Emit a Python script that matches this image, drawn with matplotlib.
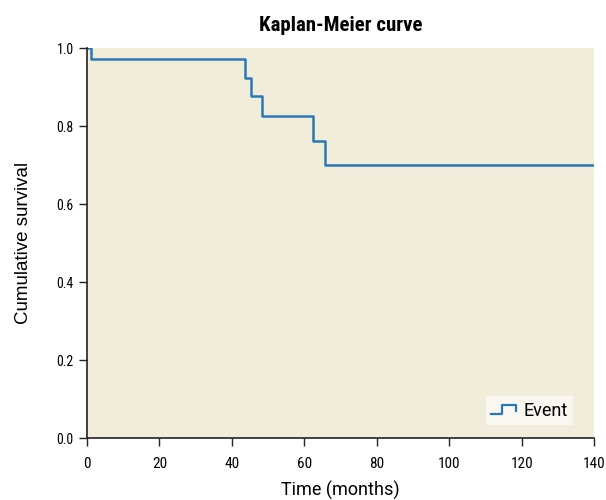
import matplotlib
matplotlib.use('Agg')
import matplotlib.pyplot as plt
from matplotlib.legend_handler import HandlerBase
from matplotlib.lines import Line2D
from matplotlib import font_manager

# survival step data (months, cumulative survival)
times = [0, 1.1, 43.6, 45.3, 48.3, 62.4, 65.7, 140]
survival = [1.0, 0.972, 0.923, 0.877, 0.826, 0.762, 0.700, 0.700]
x_ticks = [0, 20, 40, 60, 80, 100, 120, 140]
y_ticks = [0.0, 0.2, 0.4, 0.6, 0.8, 1.0]


def pick(cands):
    names = {f.name for f in font_manager.fontManager.ttflist}
    for c in cands:
        if c in names:
            return c
    return 'DejaVu Sans'


narrow = pick(['Roboto Condensed', 'Archivo Narrow', 'PT Sans Narrow'])
label_font = pick(['Roboto', 'Open Sans'])
arial = pick(['Liberation Sans', 'Arimo'])

line_color = '#2a78b8'
bg = '#f2eddb'


class StepHandler(HandlerBase):
    def create_artists(self, legend, orig_handle, xdescent, ydescent,
                       width, height, fontsize, trans):
        x0 = -xdescent
        y0 = -ydescent
        xs = [x0, x0 + width * 0.45, x0 + width * 0.45, x0 + width, x0 + width]
        ys = [y0 + height * 0.15, y0 + height * 0.15, y0 + height * 0.85,
              y0 + height * 0.85, y0 + height * 0.4]
        ln = Line2D(xs, ys, color=line_color, lw=1.6, transform=trans)
        return [ln]


fig = plt.figure(figsize=(6.06, 5.0), dpi=100)
ax = fig.add_axes([0.1436, 0.124, 0.8366, 0.78])
ax.set_facecolor(bg)

ax.step(times, survival, where='post', color=line_color, lw=1.8, label='Event')

ax.set_xlim(0, 140)
ax.set_ylim(0, 1.0)
ax.set_xticks(x_ticks)
ax.set_yticks(y_ticks)
ax.set_xticklabels([str(t) for t in x_ticks], fontfamily=narrow, fontsize=11)
ax.set_yticklabels(['%.1f' % t for t in y_ticks], fontfamily=narrow, fontsize=10)
ax.tick_params(direction='out', length=6, width=1.0, color='#222222')
ax.tick_params(axis='x', pad=8)

for s in ['top', 'right']:
    ax.spines[s].set_visible(False)
for s in ['left', 'bottom']:
    ax.spines[s].set_linewidth(1.2)
    ax.spines[s].set_color('#222222')

ax.set_xlabel('Time (months)', fontfamily=label_font, fontsize=13, labelpad=7)
ax.set_ylabel('Cumulative survival', fontfamily=arial, fontsize=13.5, labelpad=18)
ax.set_title('Kaplan-Meier curve', fontfamily=narrow, fontweight='bold',
             fontsize=15, pad=12)

leg = ax.legend(handler_map={Line2D: StepHandler()}, loc='lower right',
                bbox_to_anchor=(0.959, 0.033), borderaxespad=0,
                frameon=True, prop={'family': label_font, 'size': 13},
                fancybox=False, handlelength=1.4, handletextpad=0.4,
                borderpad=0.3)
leg.get_frame().set_facecolor('#fbfaf5')
leg.get_frame().set_edgecolor('none')

fig.savefig('out.png', dpi=100, facecolor='white')
